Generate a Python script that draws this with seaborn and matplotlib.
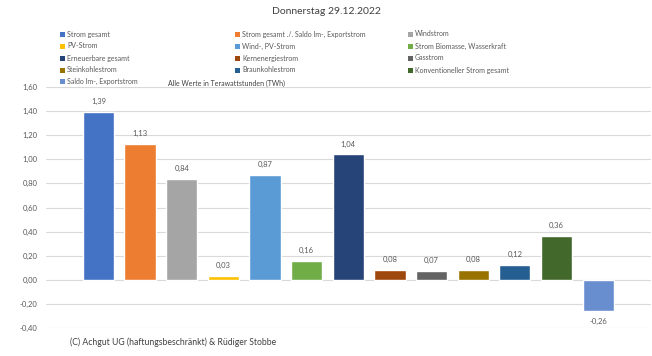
import matplotlib
matplotlib.use("Agg")
import matplotlib.pyplot as plt
import seaborn as sns
from matplotlib.patches import Rectangle
from matplotlib.ticker import FuncFormatter

# ==================== DATEN ====================
TITLE = "Donnerstag 29.12.2022"
categories = [
    "Strom gesamt",
    "Strom gesamt ./. Saldo Im-, Exportstrom",
    "Windstrom",
    "PV-Strom",
    "Wind-, PV-Strom",
    "Strom Biomasse, Wasserkraft",
    "Erneuerbare gesamt",
    "Kernenergiestrom",
    "Gasstrom",
    "Steinkohlestrom",
    "Braunkohlestrom",
    "Konventioneller Strom gesamt",
    "Saldo Im-, Exportstrom",
]
values = [1.39, 1.13, 0.84, 0.03, 0.87, 0.16, 1.04, 0.08, 0.07, 0.08, 0.12, 0.36, -0.26]
colors = ["#4472C4", "#ED7D31", "#A5A5A5", "#FFC000", "#5B9BD5", "#70AD47",
          "#264478", "#9E480E", "#636363", "#997300", "#255E91", "#43682B", "#698ED0"]
y_ticks = [-0.40, -0.20, 0.0, 0.20, 0.40, 0.60, 0.80, 1.00, 1.20, 1.40, 1.60]
# ===============================================

sns.set_style("white")
plt.rcParams["font.family"] = ["Lato", "DejaVu Sans"]
TXT = "#595959"


def de(v):
    # deutsches Dezimalkomma
    return f"{v:.2f}".replace(".", ",")


fig = plt.figure(figsize=(6.52, 3.56), dpi=100)
ax = fig.add_axes([46 / 652, 1 - 328 / 356, 605 / 652, (328 - 87) / 356])

sns.barplot(x=categories, y=values, hue=categories, palette=colors,
            width=0.75, saturation=1, legend=False, ax=ax, zorder=3)

ax.set_ylim(-0.40, 1.60)
ax.set_xlim(-1.26, 13.27)
ax.set_yticks(y_ticks)
ax.yaxis.set_major_formatter(FuncFormatter(lambda v, _: de(v)))
ax.tick_params(axis="y", labelsize=5.5, colors=TXT, length=0, pad=6)
ax.set_xticks([])
ax.set_xlabel("")
ax.set_ylabel("")
ax.grid(axis="y", color="#D9D9D9", linewidth=0.8, zorder=0)
for s in ax.spines.values():
    s.set_visible(False)

# Datenbeschriftungen
for i, v in enumerate(values):
    if v >= 0:
        ax.annotate(de(v), (i, v), xytext=(0, 5), textcoords="offset points",
                    ha="center", va="bottom", fontsize=5.5, color=TXT)
    else:
        ax.annotate(de(v), (i, v), xytext=(0, -5), textcoords="offset points",
                    ha="center", va="top", fontsize=5.5, color=TXT)

# Titel
fig.text(0.5, 1 - 12 / 356, TITLE, ha="center", va="center", fontsize=7.5, color="#404040")

# Legende (manuell, 3 Spalten)
col_x = [60, 235, 408]
row_y = [34, 46, 58, 70, 81]
for i, (name, c) in enumerate(zip(categories, colors)):
    x = col_x[i % 3]
    y = row_y[i // 3]
    fig.add_artist(Rectangle((x / 652, 1 - (y + 2.5) / 356), 5 / 652, 5 / 356,
                             transform=fig.transFigure, color=c, lw=0))
    fig.text((x + 7) / 652, 1 - y / 356, name, ha="left", va="center",
             fontsize=5, color=TXT)

fig.text(168 / 652, 1 - 83 / 356, "Alle Werte in Terawattstunden (TWh)",
         ha="left", va="center", fontsize=5, color="#404040")
fig.text(70 / 652, 1 - 342 / 356, "(C) Achgut UG (haftungsbeschränkt) & Rüdiger Stobbe",
         ha="left", va="center", fontsize=6.2, color="#404040")

fig.savefig("out.png", dpi=100)
